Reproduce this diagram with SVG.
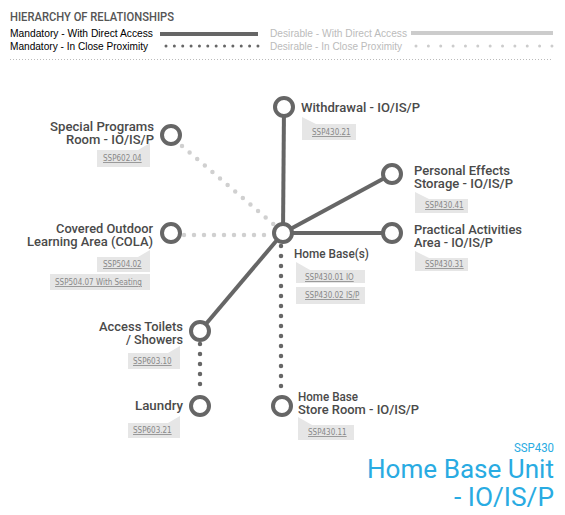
<svg xmlns="http://www.w3.org/2000/svg" width="565" height="515" viewBox="0 0 565 515">
<style>
.lg{font-family:"Liberation Sans",Arial,sans-serif;font-size:11px}
.lbl{font-family:"Roboto","DejaVu Sans Condensed",sans-serif;font-size:13px;font-weight:500;fill:#4a4a4a}
.ref{font-family:"DejaVu Sans Condensed","Liberation Sans",sans-serif;font-size:8px;fill:#888;text-decoration:underline}
.box{fill:#e6e6e6}
.node{fill:#fff;stroke:#666;stroke-width:4}
.solid{stroke:#666;stroke-width:4;fill:none}
.dotd{stroke:#666;stroke-width:4.5;stroke-linecap:round;stroke-dasharray:0 10;fill:none}
.dotl{stroke:#d0d0d0;stroke-width:4.5;stroke-linecap:round;stroke-dasharray:0 10;fill:none}
.title{font-family:"Roboto","DejaVu Sans",sans-serif;fill:#29abe2}
</style>
<rect width="565" height="515" fill="#fff"/>
<g id="legend">
<text x="10" y="21" font-family="Roboto,'DejaVu Sans Condensed',sans-serif" font-size="12" font-weight="500" fill="#555" textLength="164" lengthAdjust="spacingAndGlyphs">HIERARCHY OF RELATIONSHIPS</text>
<text class="lg" x="10" y="37" fill="#000" textLength="143" lengthAdjust="spacingAndGlyphs">Mandatory - With Direct Access</text>
<text class="lg" x="10" y="50" fill="#000" textLength="138" lengthAdjust="spacingAndGlyphs">Mandatory - In Close Proximity</text>
<line x1="160" y1="34" x2="258" y2="34" stroke="#666" stroke-width="4"/>
<line x1="166" y1="46" x2="258" y2="46" stroke="#666" stroke-width="3" stroke-linecap="round" stroke-dasharray="0 8.36"/>
<text class="lg" x="270" y="37" fill="#bbb" textLength="137" lengthAdjust="spacingAndGlyphs">Desirable - With Direct Access</text>
<text class="lg" x="270" y="50" fill="#bbb" textLength="132" lengthAdjust="spacingAndGlyphs">Desirable - In Close Proximity</text>
<line x1="411" y1="33" x2="553" y2="33" stroke="#ccc" stroke-width="4"/>
<line x1="416" y1="46" x2="552" y2="46" stroke="#ccc" stroke-width="3" stroke-linecap="round" stroke-dasharray="0 12.36"/>
<line x1="10" y1="59.5" x2="553" y2="59.5" stroke="#bbb" stroke-width="1" stroke-dasharray="1 2"/>
</g>
<g id="connectors">
<line class="solid" x1="283" y1="233" x2="284" y2="107"/>
<line class="solid" x1="283" y1="233" x2="392" y2="174"/>
<line class="solid" x1="283" y1="233" x2="392" y2="233"/>
<line class="solid" x1="283" y1="233" x2="200" y2="331"/>
<line class="dotl" x1="182" y1="146" x2="278" y2="228"/>
<line class="dotl" x1="184" y1="235" x2="274" y2="235"/>
<line class="dotd" x1="281" y1="246" x2="281" y2="396"/>
<line class="dotd" x1="200" y1="344" x2="200" y2="394"/>
</g>
<g id="withdrawal">
<circle class="node" cx="284" cy="107" r="9"/>
<text class="lbl" x="301" y="112" textLength="119" lengthAdjust="spacingAndGlyphs">Withdrawal - IO/IS/P</text>
<path class="box" d="M302,117 L316,124 L356,124 L356,140 L302,140 Z"/>
<text class="ref" x="312" y="135">SSP430.21</text>
</g>
<g id="personal-effects">
<circle class="node" cx="392" cy="174" r="9"/>
<text class="lbl" x="414" y="175" textLength="96" lengthAdjust="spacingAndGlyphs">Personal Effects</text>
<text class="lbl" x="414" y="188" textLength="99" lengthAdjust="spacingAndGlyphs">Storage - IO/IS/P</text>
<path class="box" d="M415,192 L429,199 L468,199 L468,213 L415,213 Z"/>
<text class="ref" x="425" y="208">SSP430.41</text>
</g>
<g id="practical-activities">
<circle class="node" cx="392" cy="233" r="9"/>
<text class="lbl" x="414" y="234" textLength="108" lengthAdjust="spacingAndGlyphs">Practical Activities</text>
<text class="lbl" x="414" y="247" textLength="79" lengthAdjust="spacingAndGlyphs">Area - IO/IS/P</text>
<path class="box" d="M415,251 L429,258 L468,258 L468,271 L415,271 Z"/>
<text class="ref" x="425" y="267">SSP430.31</text>
</g>
<g id="home-base">
<circle class="node" cx="283" cy="233" r="9"/>
<text class="lbl" x="294" y="258" textLength="75" lengthAdjust="spacingAndGlyphs">Home Base(s)</text>
<path class="box" d="M296,262 L310,270 L365,270 L365,283 L296,283 Z"/>
<text class="ref" x="305" y="280">SSP430.01 IO</text>
<rect class="box" x="296" y="287" width="69" height="17"/>
<text class="ref" x="305" y="298">SSP430.02 IS/P</text>
</g>
<g id="special-programs">
<circle class="node" cx="171" cy="135" r="9"/>
<text class="lbl" x="154" y="131" text-anchor="end" textLength="104" lengthAdjust="spacingAndGlyphs">Special Programs</text>
<text class="lbl" x="154" y="144" text-anchor="end" textLength="88" lengthAdjust="spacingAndGlyphs">Room - IO/IS/P</text>
<path class="box" d="M150,143 L138,150 L97,150 L97,167 L150,167 Z"/>
<text class="ref" x="103" y="161">SSP602.04</text>
</g>
<g id="cola">
<circle class="node" cx="171" cy="233" r="9"/>
<text class="lbl" x="153" y="233" text-anchor="end" textLength="97" lengthAdjust="spacingAndGlyphs">Covered Outdoor</text>
<text class="lbl" x="153" y="246" text-anchor="end" textLength="126" lengthAdjust="spacingAndGlyphs">Learning Area (COLA)</text>
<path class="box" d="M150,250 L138,257 L97,257 L97,272 L150,272 Z"/>
<text class="ref" x="103" y="267">SSP504.02</text>
<rect class="box" x="50" y="274" width="100" height="16"/>
<text class="ref" x="55" y="285">SSP504.07 With Seating</text>
</g>
<g id="access-toilets">
<circle class="node" cx="200" cy="331" r="9"/>
<text class="lbl" x="183" y="331" text-anchor="end" textLength="84" lengthAdjust="spacingAndGlyphs">Access Toilets</text>
<text class="lbl" x="183" y="344" text-anchor="end" textLength="57" lengthAdjust="spacingAndGlyphs">/ Showers</text>
<path class="box" d="M180,346 L168,353 L128,353 L128,369 L180,369 Z"/>
<text class="ref" x="133" y="364">SSP603.10</text>
</g>
<g id="laundry">
<circle class="node" cx="200" cy="406" r="9"/>
<text class="lbl" x="183" y="410" text-anchor="end" textLength="48" lengthAdjust="spacingAndGlyphs">Laundry</text>
<path class="box" d="M180,416 L168,423 L128,423 L128,438 L180,438 Z"/>
<text class="ref" x="133" y="433">SSP603.21</text>
</g>
<g id="store-room">
<circle class="node" cx="282" cy="406" r="9"/>
<text class="lbl" x="298" y="401" textLength="60" lengthAdjust="spacingAndGlyphs">Home Base</text>
<text class="lbl" x="298" y="414" textLength="121" lengthAdjust="spacingAndGlyphs">Store Room - IO/IS/P</text>
<path class="box" d="M298,417 L312,425 L354,425 L354,440 L298,440 Z"/>
<text class="ref" x="308" y="435">SSP430.11</text>
</g>
<g id="title">
<text class="title" x="554" y="452" text-anchor="end" font-size="12" textLength="40" lengthAdjust="spacingAndGlyphs">SSP430</text>
<text class="title" x="554" y="478" text-anchor="end" font-size="25" textLength="187" lengthAdjust="spacingAndGlyphs">Home Base Unit</text>
<text class="title" x="554" y="506" text-anchor="end" font-size="25" textLength="100" lengthAdjust="spacingAndGlyphs">- IO/IS/P</text>
</g>
</svg>
